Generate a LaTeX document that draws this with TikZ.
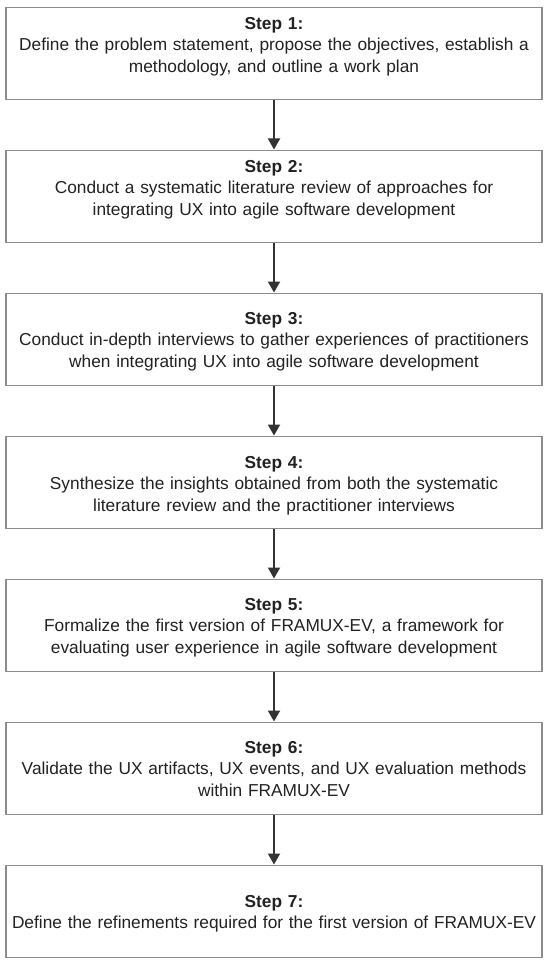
\documentclass[tikz,border=0pt]{standalone}
\usepackage{fontspec}
\setmainfont{Liberation Sans}
\usetikzlibrary{arrows.meta}
\definecolor{boxline}{HTML}{8C8C8C}
\definecolor{arrowcol}{HTML}{333333}
\definecolor{txtcol}{HTML}{222222}
\tikzset{
  stepbox/.style={draw=boxline, line width=1.3pt, fill=white, minimum width=536pt, minimum height=92pt, inner sep=0pt, anchor=north},
  steptext/.style={anchor=north, inner sep=0pt, text width=534pt, align=center, text=txtcol, font=\fontsize{17.3}{21.5}\selectfont},
  flow/.style={draw=arrowcol, line width=2pt, -{Triangle[width=12pt,length=11pt]}, shorten >=0.5pt}
}
\begin{document}
\begin{tikzpicture}[x=1pt,y=1pt]
\useasboundingbox (0,0) rectangle (550,-965);
\node[stepbox] (s1) at (274,-7) {};
\node[stepbox] (s2) at (274,-150) {};
\node[stepbox] (s3) at (274,-293) {};
\node[stepbox] (s4) at (274,-436) {};
\node[stepbox] (s5) at (274,-579) {};
\node[stepbox] (s6) at (274,-722) {};
\node[stepbox] (s7) at (274,-865) {};
\node[steptext] (t1) at ([yshift=-10pt]s1.north) {\textbf{Step 1:}\\Define the problem statement, propose the objectives, establish a\\methodology, and outline a work plan};
\node[steptext] (t2) at ([yshift=-10pt]s2.north) {\textbf{Step 2:}\\Conduct a systematic literature review of approaches for\\integrating UX into agile software development};
\node[steptext] (t3) at ([yshift=-19pt]s3.north) {\textbf{Step 3:}\\Conduct in-depth interviews to gather experiences of practitioners\\when integrating UX into agile software development};
\node[steptext] (t4) at ([yshift=-20pt]s4.north) {\textbf{Step 4:}\\Synthesize the insights obtained from both the systematic\\literature review and the practitioner interviews};
\node[steptext] (t5) at ([yshift=-19pt]s5.north) {\textbf{Step 5:}\\Formalize the first version of FRAMUX-EV, a framework for\\evaluating user experience in agile software development};
\node[steptext] (t6) at ([yshift=-19pt]s6.north) {\textbf{Step 6:}\\Validate the UX artifacts, UX events, and UX evaluation methods\\within FRAMUX-EV};
\node[steptext] (t7) at ([yshift=-30pt]s7.north) {\textbf{Step 7:}\\Define the refinements required for the first version of FRAMUX-EV};
\draw[flow] (s1.south) -- (s2.north);
\draw[flow] (s2.south) -- (s3.north);
\draw[flow] (s3.south) -- (s4.north);
\draw[flow] (s4.south) -- (s5.north);
\draw[flow] (s5.south) -- (s6.north);
\draw[flow] (s6.south) -- (s7.north);
\end{tikzpicture}
\end{document}
